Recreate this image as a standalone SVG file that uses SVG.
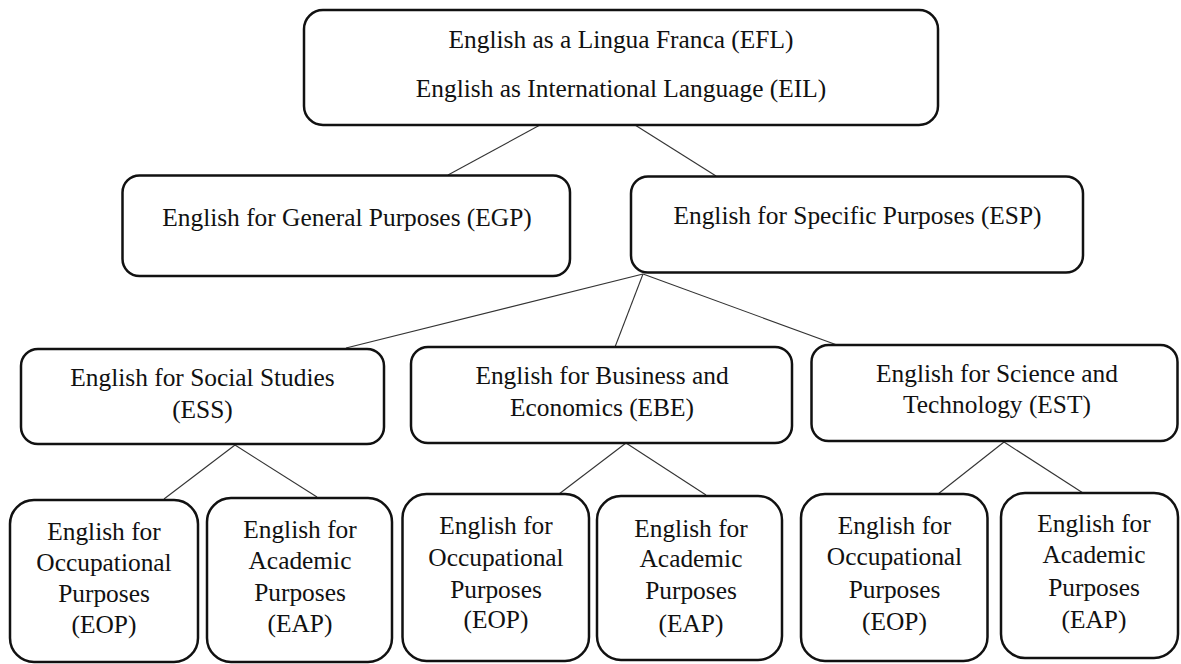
<svg xmlns="http://www.w3.org/2000/svg" width="1181" height="664" viewBox="0 0 1181 664">
<style>
.box{fill:#fff;stroke:#111;stroke-width:2.5}
.t{font-family:'Liberation Serif','Times New Roman',Times,'DejaVu Serif',serif;font-size:25.4px;fill:#111;text-anchor:middle}
.c line{stroke:#333;stroke-width:1.1}
</style>
<rect width="1181" height="664" fill="#fff"/>
<g class="c" id="connectors">
<line x1="540" y1="125" x2="448" y2="175"/>
<line x1="635" y1="125" x2="716" y2="176"/>
<line x1="643" y1="274" x2="346" y2="348"/>
<line x1="643" y1="274" x2="615" y2="347"/>
<line x1="643" y1="274" x2="837" y2="345"/>
<line x1="235" y1="445" x2="164" y2="499"/>
<line x1="235" y1="445" x2="317" y2="497"/>
<line x1="626" y1="443" x2="559" y2="494"/>
<line x1="626" y1="443" x2="706" y2="495"/>
<line x1="1004" y1="442" x2="938" y2="494"/>
<line x1="1004" y1="442" x2="1083" y2="493"/>
</g>
<g id="efl">
<rect class="box" x="304" y="10" width="634" height="115" rx="19"/>
<text class="t" x="621" y="47.5">English as a Lingua Franca (EFL)</text>
<text class="t" x="621" y="96.5">English as International Language (EIL)</text>
</g>
<g id="egp">
<rect class="box" x="122.5" y="175.5" width="447.5" height="100.5" rx="17"/>
<text class="t" x="347" y="226">English for General Purposes (EGP)</text>
</g>
<g id="esp">
<rect class="box" x="631" y="176.5" width="452" height="96" rx="17"/>
<text class="t" x="857.5" y="224">English for Specific Purposes (ESP)</text>
</g>
<g id="ess">
<rect class="box" x="21" y="349" width="363" height="95" rx="17"/>
<text class="t" x="202.5" y="386">English for Social Studies</text>
<text class="t" x="202.5" y="418">(ESS)</text>
</g>
<g id="ebe">
<rect class="box" x="411" y="347" width="381" height="96" rx="17"/>
<text class="t" x="602" y="384">English for Business and</text>
<text class="t" x="602" y="416">Economics (EBE)</text>
</g>
<g id="est">
<rect class="box" x="811.5" y="345" width="366" height="96" rx="17"/>
<text class="t" x="997" y="382">English for Science and</text>
<text class="t" x="997" y="413">Technology (EST)</text>
</g>
<g id="eop1">
<rect class="box" x="10" y="500" width="188" height="162" rx="24"/>
<text class="t" x="104" y="540">English for</text>
<text class="t" x="104" y="571">Occupational</text>
<text class="t" x="104" y="602">Purposes</text>
<text class="t" x="104" y="633">(EOP)</text>
</g>
<g id="eap1">
<rect class="box" x="207" y="498" width="185" height="164" rx="24"/>
<text class="t" x="300" y="538">English for</text>
<text class="t" x="300" y="569">Academic</text>
<text class="t" x="300" y="601">Purposes</text>
<text class="t" x="300" y="632">(EAP)</text>
</g>
<g id="eop2">
<rect class="box" x="402.5" y="494" width="186.5" height="167" rx="24"/>
<text class="t" x="496" y="534">English for</text>
<text class="t" x="496" y="566">Occupational</text>
<text class="t" x="496" y="598">Purposes</text>
<text class="t" x="496" y="628">(EOP)</text>
</g>
<g id="eap2">
<rect class="box" x="597" y="496" width="185" height="164" rx="24"/>
<text class="t" x="691" y="537">English for</text>
<text class="t" x="691" y="567">Academic</text>
<text class="t" x="691" y="599">Purposes</text>
<text class="t" x="691" y="632">(EAP)</text>
</g>
<g id="eop3">
<rect class="box" x="801" y="494" width="186.5" height="167" rx="24"/>
<text class="t" x="894.5" y="534">English for</text>
<text class="t" x="894.5" y="565">Occupational</text>
<text class="t" x="894.5" y="598">Purposes</text>
<text class="t" x="894.5" y="630">(EOP)</text>
</g>
<g id="eap3">
<rect class="box" x="1001" y="493" width="177" height="165" rx="24"/>
<text class="t" x="1094" y="532">English for</text>
<text class="t" x="1094" y="563">Academic</text>
<text class="t" x="1094" y="596">Purposes</text>
<text class="t" x="1094" y="628">(EAP)</text>
</g>
</svg>
